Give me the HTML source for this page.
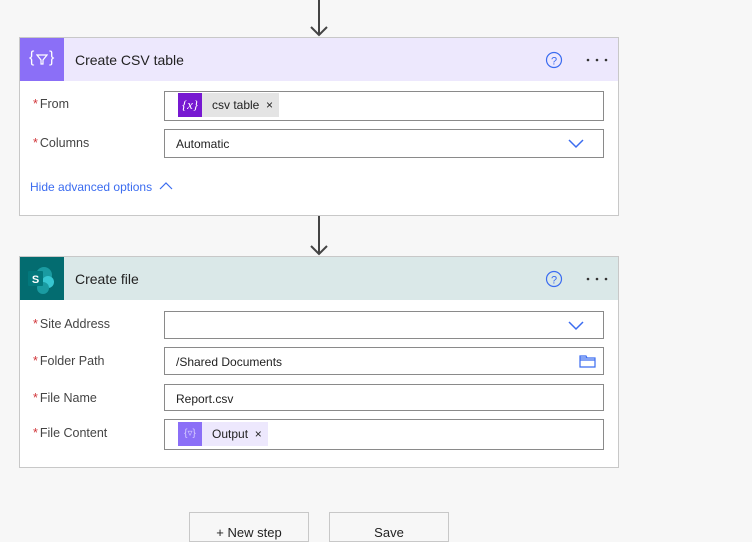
<!DOCTYPE html>
<html><head><meta charset="utf-8"><style>
*{margin:0;padding:0;box-sizing:border-box}
body{width:752px;height:529px;background:#f7f7f7;font-family:"Liberation Sans",sans-serif;position:relative;overflow:hidden;color:#222}
.abs{position:absolute}
.card{position:absolute;left:19px;width:600px;background:#fff;border:1px solid #c8c8c8}
.hdr{position:absolute;left:0;top:0;width:598px;height:43px}
.ico{position:absolute;left:0;top:0;width:44px;height:43px}
.title{position:absolute;left:55px;top:14px;font-size:14px;color:#222}
.lbl{position:absolute;left:13px;font-size:12.5px;color:#444}
.lbl b{color:#d13438;font-weight:normal;margin-right:2px}
.inp{position:absolute;left:144px;width:440px;border:1px solid #8a8a8a;background:#fff;font-size:12px}
.txt{position:absolute;left:11px;top:7px;color:#222}
.tok{position:absolute;left:13px;top:1px;height:24px;display:flex;align-items:center;font-size:12px}
.btn{position:absolute;top:512px;width:120px;height:30px;border:1px solid #c8c8c8;background:#f7f7f7;font-size:13px;text-align:center;padding-top:12px}
</style></head><body>
<svg class="abs" style="left:0;top:0" width="752" height="529">
<line x1="319" y1="0" x2="319" y2="34" stroke="#444" stroke-width="2"/>
<polyline points="311,27 319,35 327,27" fill="none" stroke="#444" stroke-width="2"/>
<line x1="319" y1="216" x2="319" y2="254" stroke="#444" stroke-width="2"/>
<polyline points="311,246 319,254 327,246" fill="none" stroke="#444" stroke-width="2"/>
</svg>

<div class="card" style="top:37px;height:179px">
 <div class="hdr" style="background:#ede8fd"></div>
 <div class="ico" style="background:#8b6ff7">
  <span class="abs" style="left:9px;top:11px;color:#fff;font-size:16px">{</span>
  <svg class="abs" style="left:16px;top:15px" width="12" height="12"><path d="M1,2 L11,2 L7,7 L7,11 L5,11 L5,7 Z" fill="none" stroke="#fff" stroke-width="1.2"/></svg>
  <span class="abs" style="left:29px;top:11px;color:#fff;font-size:16px">}</span>
 </div>
 <div class="title">Create CSV table</div>
 <svg class="abs" style="left:525px;top:13px" width="18" height="18"><circle cx="9" cy="9" r="7.5" fill="none" stroke="#3b6cf0" stroke-width="1.2"/><text x="9" y="13.5" font-size="11" fill="#3b6cf0" text-anchor="middle" font-family="Liberation Sans">?</text></svg>
 <svg class="abs" style="left:565px;top:19px" width="24" height="6"><circle cx="3" cy="3" r="1.3" fill="#333"/><circle cx="12" cy="3" r="1.3" fill="#333"/><circle cx="21" cy="3" r="1.3" fill="#333"/></svg>
 <div class="lbl" style="top:59px"><b>*</b>From</div>
 <div class="inp" style="top:53px;height:30px">
  <div class="tok"><span style="background:#7719d1;color:#fff;width:24px;height:24px;display:inline-block;text-align:center;line-height:23px;font-style:italic;font-family:'Liberation Serif';font-size:13px">{x}</span><span style="background:#e4e4e4;height:24px;line-height:24px;padding:0 6px 0 10px">csv table &nbsp;×</span></div>
 </div>
 <div class="lbl" style="top:98px"><b>*</b>Columns</div>
 <div class="inp" style="top:91px;height:29px"><div class="txt">Automatic</div>
  <svg class="abs" style="left:403px;top:9px" width="16" height="10"><polyline points="1,1 8,8 15,1" fill="none" stroke="#3b6cf0" stroke-width="1.5"/></svg></div>
 <div class="abs" style="left:10px;top:142px;font-size:12px;color:#3b6cf0">Hide advanced options</div>
 <svg class="abs" style="left:139px;top:143px" width="14" height="9"><polyline points="1,8 7,2 13,8" fill="none" stroke="#3b6cf0" stroke-width="1.2"/></svg>
</div>

<div class="card" style="top:256px;height:212px">
 <div class="hdr" style="background:#dae8e8"></div>
 <div class="ico" style="background:#036c70">
  <svg class="abs" style="left:6px;top:8px" width="32" height="30"><circle cx="18" cy="10" r="8" fill="#1a9ba1"/><circle cx="22" cy="17" r="6" fill="#37c6d0"/><circle cx="17" cy="23" r="6" fill="#1a9ba1"/><rect x="2" y="6" width="15" height="15" rx="1" fill="#03787c"/><text x="9.5" y="18" font-size="11" font-weight="bold" fill="#fff" text-anchor="middle" font-family="Liberation Sans">S</text></svg>
 </div>
 <div class="title">Create file</div>
 <svg class="abs" style="left:525px;top:13px" width="18" height="18"><circle cx="9" cy="9" r="7.5" fill="none" stroke="#3b6cf0" stroke-width="1.2"/><text x="9" y="13.5" font-size="11" fill="#3b6cf0" text-anchor="middle" font-family="Liberation Sans">?</text></svg>
 <svg class="abs" style="left:565px;top:19px" width="24" height="6"><circle cx="3" cy="3" r="1.3" fill="#333"/><circle cx="12" cy="3" r="1.3" fill="#333"/><circle cx="21" cy="3" r="1.3" fill="#333"/></svg>
 <div class="lbl" style="top:60px"><b>*</b>Site Address</div>
 <div class="inp" style="top:54px;height:28px">
  <svg class="abs" style="left:403px;top:9px" width="16" height="10"><polyline points="1,1 8,8 15,1" fill="none" stroke="#3b6cf0" stroke-width="1.5"/></svg></div>
 <div class="lbl" style="top:97px"><b>*</b>Folder Path</div>
 <div class="inp" style="top:90px;height:28px"><div class="txt">/Shared Documents</div>
  <svg class="abs" style="left:414px;top:7px" width="17" height="13"><path d="M1,3 L1,12 L16,12 L16,3 Z M1,3 L1,1 L7,1 L8,3 M1,5 L16,5" fill="none" stroke="#3b6cf0" stroke-width="1.2"/></svg></div>
 <div class="lbl" style="top:134px"><b>*</b>File Name</div>
 <div class="inp" style="top:127px;height:27px"><div class="txt">Report.csv</div></div>
 <div class="lbl" style="top:169px"><b>*</b>File Content</div>
 <div class="inp" style="top:162px;height:31px">
  <div class="tok" style="top:2px"><span style="background:#8b6ff7;color:#d9d0ff;width:24px;height:24px;display:inline-block;text-align:center;line-height:23px;font-size:10px">{▿}</span><span style="background:#ede8fd;height:24px;line-height:24px;padding:0 6px 0 10px">Output &nbsp;×</span></div>
 </div>
</div>

<div class="btn" style="left:189px">+ New step</div>
<div class="btn" style="left:329px">Save</div>
</body></html>
